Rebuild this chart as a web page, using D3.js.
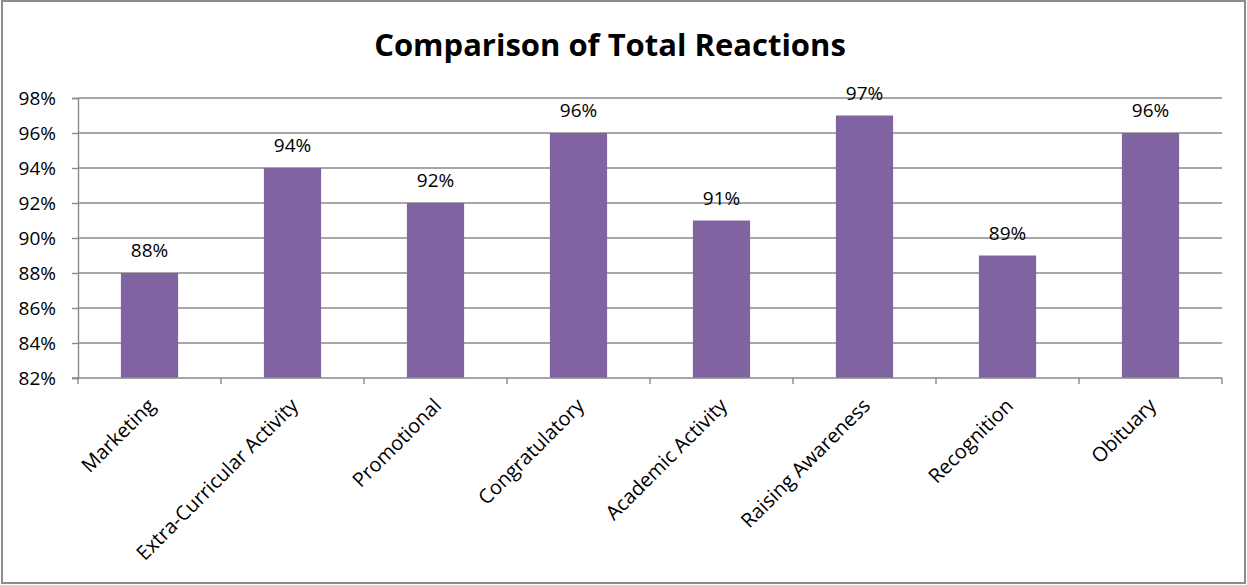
<!DOCTYPE html>
<html>
<head>
<meta charset="utf-8">
<script src="https://cdn.jsdelivr.net/npm/d3@7"></script>
<style>
  body { margin: 0; background: #fff; }
  svg text { font-family: "Open Sans", sans-serif; fill: #000; }
</style>
</head>
<body>
<svg id="chart" width="1247" height="585"></svg>
<script>
var categories = ['Marketing', 'Extra-Curricular Activity', 'Promotional', 'Congratulatory',
  'Academic Activity', 'Raising Awareness', 'Recognition', 'Obituary'];
var reactions = [88, 94, 92, 96, 91, 97, 89, 96];
var yTicks = [82, 84, 86, 88, 90, 92, 94, 96, 98];

var svg = d3.select('#chart');
var plot = {left: 78, right: 1222, top: 98, bottom: 378};
var gridColor = '#8a8a8a';

// outer frame
svg.append('rect')
  .attr('x', 2).attr('y', 1)
  .attr('width', 1243).attr('height', 582)
  .attr('fill', 'none')
  .attr('stroke', '#8c8c8c')
  .attr('stroke-width', 2);

svg.append('text')
  .attr('x', 610).attr('y', 56)
  .attr('text-anchor', 'middle')
  .style('font-size', '31px')
  .style('font-weight', 'bold')
  .text('Comparison of Total Reactions');

var x = d3.scaleBand()
  .domain(categories)
  .range([plot.left, plot.right])
  .paddingInner(0.6)
  .paddingOuter(0.3);

var y = d3.scaleLinear()
  .domain([82, 98])
  .range([plot.bottom, plot.top]);

// gridlines
svg.append('g').selectAll('line')
  .data(yTicks.slice(1))
  .join('line')
  .attr('x1', plot.left).attr('x2', plot.right)
  .attr('y1', function(d) { return y(d); })
  .attr('y2', function(d) { return y(d); })
  .attr('stroke', gridColor)
  .attr('stroke-width', 1.4);

// y axis
var yAxis = svg.append('g')
  .attr('transform', 'translate(' + plot.left + ',0)')
  .call(d3.axisLeft(y)
    .tickValues(yTicks)
    .tickSize(6)
    .tickPadding(16)
    .tickFormat(function(d) { return d + '%'; }));
yAxis.select('.domain').attr('stroke', gridColor).attr('stroke-width', 1.4);
yAxis.selectAll('.tick line').attr('stroke', gridColor).attr('stroke-width', 1.4);
yAxis.selectAll('.tick text')
  .style('font-size', '19px')
  .style('font-family', '"Open Sans", sans-serif')
  .attr('fill', '#000');

// bars
svg.append('g').selectAll('rect')
  .data(reactions)
  .join('rect')
  .attr('x', function(d, i) { return x(categories[i]); })
  .attr('width', x.bandwidth())
  .attr('y', function(d) { return y(d); })
  .attr('height', function(d) { return y(82) - y(d); })
  .attr('fill', '#8064A2');

// value labels
svg.append('g').selectAll('text')
  .data(reactions)
  .join('text')
  .attr('x', function(d, i) { return x(categories[i]) + x.bandwidth() / 2; })
  .attr('y', function(d) { return y(d) - 16; })
  .attr('text-anchor', 'middle')
  .style('font-size', '19px')
  .text(function(d) { return d + '%'; });

// x axis with ticks at category boundaries
var step = x.step();
var boundaries = d3.range(categories.length + 1).map(function(i) { return plot.left + i * step; });
var xAxis = svg.append('g');
xAxis.append('line')
  .attr('x1', plot.left - 6).attr('x2', plot.right)
  .attr('y1', plot.bottom).attr('y2', plot.bottom)
  .attr('stroke', gridColor).attr('stroke-width', 1.4);
xAxis.selectAll('line.tick')
  .data(boundaries)
  .join('line')
  .attr('class', 'tick')
  .attr('x1', function(d) { return d; }).attr('x2', function(d) { return d; })
  .attr('y1', plot.bottom).attr('y2', plot.bottom + 6)
  .attr('stroke', gridColor).attr('stroke-width', 1.4);

xAxis.selectAll('text')
  .data(categories)
  .join('text')
  .attr('transform', function(d) {
    return 'translate(' + (x(d) + x.bandwidth() / 2 + 2) + ',' + (plot.bottom + 24) + ') rotate(-45)';
  })
  .attr('text-anchor', 'end')
  .attr('dy', '0.35em')
  .style('font-size', '20px')
  .text(function(d) { return d; });
</script>
</body>
</html>
